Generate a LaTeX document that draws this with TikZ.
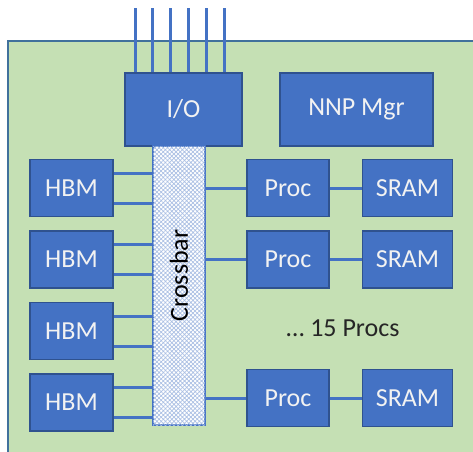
\documentclass[tikz,border=0pt]{standalone}
\usepackage{fontspec}
\setmainfont{Carlito}
\usetikzlibrary{positioning, calc, patterns.meta}
\definecolor{chipgreen}{HTML}{C5E0B4}
\definecolor{boxblue}{HTML}{4472C4}
\definecolor{boxedge}{HTML}{2F528F}
\definecolor{chipedge}{HTML}{41719C}

\begin{document}
\begin{tikzpicture}[
    x=1pt, y=1pt,
    box/.style={rectangle, draw=boxedge, line width=1.5pt, fill=boxblue, minimum width=83pt, minimum height=57pt, align=center, text=white!95!black, font=\fontsize{26}{30}\selectfont},
    xbarbox/.style={rectangle, draw=boxblue, line width=2pt, fill=white, postaction={pattern={Hatch[angle=45, distance=3pt, line width=0.7pt]}, pattern color=boxblue!45}, minimum width=279pt, minimum height=52pt, font=\fontsize{26}{30}\selectfont},
    wire/.style={draw=boxblue, line width=3pt},
    note/.style={font=\fontsize{26}{30}\selectfont, text=black!85}
]
\useasboundingbox (0,0) rectangle (473,-451);
\clip (0,0) rectangle (473,-451);

% Chip outline
\draw[fill=chipgreen, draw=chipedge, line width=1.5pt] (8,-41) rectangle (490,-470);

% Top row
\node[box, minimum width=117pt, minimum height=73pt] (io) at (183.5,-109.5) {I/O};
\node[box, minimum width=153pt, minimum height=73pt] (mgr) at (356.5,-109.5) {NNP Mgr};

% Pins
\foreach \i in {0,...,5} {
  \coordinate (pin\i) at ({135+\i*17.8},-8);
  \draw[wire] (pin\i) -- (pin\i |- io.north);
}

% Crossbar (rotated: north is the left side, south the right side)
\node[xbarbox, rotate=90] (xbar) at (179,-285.5) {\hspace{20pt}Crossbar};

% Memory side
\node[box] (hbm1) at (71.5,-188) {HBM};
\node[box, below=13pt of hbm1] (hbm2) {HBM};
\node[box, below=13pt of hbm2] (hbm3) {HBM};
\node[box, below=13pt of hbm3] (hbm4) {HBM};

\foreach \i in {1,...,4} {
  \draw[wire] ([yshift=15pt]hbm\i.east) -- ([yshift=15pt]hbm\i.east -| xbar.north);
  \draw[wire] ([yshift=-15pt]hbm\i.east) -- ([yshift=-15pt]hbm\i.east -| xbar.north);
}

% Processors
\node[box, minimum width=82pt] (proc1) at (288,-188) {Proc};
\node[box, minimum width=82pt, below=13pt of proc1] (proc2) {Proc};
\node[box, minimum width=82pt] (proc3) at (288,-398) {Proc};
\node[box, minimum width=90pt, right=32pt of proc1] (sram1) {SRAM};
\node[box, minimum width=90pt, right=32pt of proc2] (sram2) {SRAM};
\node[box, minimum width=90pt, right=32pt of proc3] (sram3) {SRAM};
\node[note] (more) at (343,-328) {\dots\ 15 Procs};

\foreach \i in {1,2,3} {
  \draw[wire] (proc\i.west) -- (proc\i.west -| xbar.south);
  \draw[wire] (proc\i) -- (sram\i);
}

\end{tikzpicture}
\end{document}
